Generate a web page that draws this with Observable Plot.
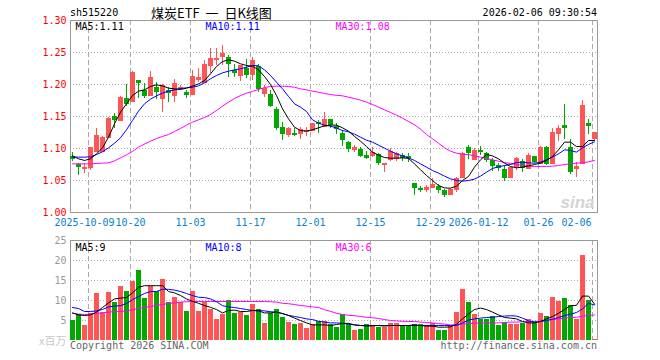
<!DOCTYPE html>
<html><head><meta charset="utf-8">
<script src="https://cdn.jsdelivr.net/npm/d3@7"></script>
<script src="https://cdn.jsdelivr.net/npm/@observablehq/plot@0.6"></script>
<style>
body{margin:0;background:#fff;}
#wrap{position:relative;width:660px;height:360px;overflow:hidden;font-family:"DejaVu Sans Mono",monospace;}
.t{position:absolute;font-size:10px;white-space:pre;line-height:10px;}
#price,#vol{position:absolute;left:0;}
#price{top:0;} #vol{top:232px;}
</style></head><body>
<div id="wrap">
 <div id="price"></div><div id="vol"></div>
 <div class="t" id="code" style="left:70px;top:8px;"></div>
 <div class="t" id="title" style="left:151px;top:6px;font-family:'Noto Sans CJK SC',sans-serif;font-size:13px;line-height:14px;word-spacing:3px;"></div>
 <div class="t" id="time" style="right:63px;top:8px;"></div>
 <div class="t" id="copy" style="left:70px;top:341px;color:#666;"></div>
 <div class="t" id="url" style="right:63px;top:341px;color:#666;"></div>
</div>
<script>
const headerCode = "sh515220";
const headerTitle = "煤炭ETF 一 日K线图";
const headerTime = "2026-02-06 09:30:54";
const footerLeft = "Copyright 2026 SINA.COM";
const footerRight = "http://finance.sina.com.cn";

const dates = ["2025-09-26","2025-09-29","2025-09-30","2025-10-09","2025-10-10",
"2025-10-13","2025-10-14","2025-10-15","2025-10-16","2025-10-17",
"2025-10-20","2025-10-21","2025-10-22","2025-10-23","2025-10-24",
"2025-10-27","2025-10-28","2025-10-29","2025-10-30","2025-10-31",
"2025-11-03","2025-11-04","2025-11-05","2025-11-06","2025-11-07",
"2025-11-10","2025-11-11","2025-11-12","2025-11-13","2025-11-14",
"2025-11-17","2025-11-18","2025-11-19","2025-11-20","2025-11-21",
"2025-11-24","2025-11-25","2025-11-26","2025-11-27","2025-11-28",
"2025-12-01","2025-12-02","2025-12-03","2025-12-04","2025-12-05",
"2025-12-08","2025-12-09","2025-12-10","2025-12-11","2025-12-12",
"2025-12-15","2025-12-16","2025-12-17","2025-12-18","2025-12-19",
"2025-12-22","2025-12-23","2025-12-24","2025-12-25","2025-12-26",
"2025-12-29","2025-12-30","2025-12-31",
"2026-01-05","2026-01-06","2026-01-07","2026-01-08","2026-01-09",
"2026-01-12","2026-01-13","2026-01-14","2026-01-15","2026-01-16",
"2026-01-19","2026-01-20","2026-01-21","2026-01-22","2026-01-23",
"2026-01-26","2026-01-27","2026-01-28","2026-01-29","2026-01-30",
"2026-02-02","2026-02-03","2026-02-04","2026-02-05","2026-02-06"];

const opens = [1.0875,1.0745,1.068,1.070,1.0953,1.0953,1.1177,1.150,1.1438,1.1776,
1.174,1.2063,1.1906,1.1828,1.1958,1.1786,1.1906,1.1828,1.1945,1.188,
1.1844,1.2078,1.2036,1.2297,1.2396,1.2438,1.2417,1.2219,1.214,1.2245,
1.2156,1.2281,1.1865,1.1844,1.1609,1.1323,1.1219,1.124,1.124,1.126,
1.1281,1.1411,1.1344,1.1453,1.1344,1.124,1.1099,1.0984,1.0984,1.0891,
1.0891,1.0906,1.0745,1.0823,1.0839,1.0891,1.088,1.0448,1.038,1.0359,
1.0396,1.0406,1.0344,1.0281,1.0354,1.0552,1.101,1.0823,1.0974,1.0917,
1.0813,1.0734,1.0667,1.0552,1.0719,1.0802,1.0682,1.0875,1.0771,1.1021,
1.0771,1.124,1.1359,1.1021,1.0682,1.0771,1.1396,1.1151];
const highs = [1.094,1.076,1.076,1.102,1.1318,1.119,1.149,1.155,1.1813,1.200,
1.2203,1.2068,1.202,1.22,1.2036,1.1995,1.1958,1.2073,1.199,1.1906,
1.2219,1.2245,1.2375,1.2557,1.2557,1.261,1.2453,1.2313,1.2297,1.2385,
1.2427,1.2313,1.1984,1.1906,1.1646,1.1411,1.1323,1.1307,1.1323,1.1323,
1.1396,1.1438,1.1568,1.1453,1.1396,1.1281,1.1115,1.1047,1.1021,1.0953,
1.1021,1.0917,1.0766,1.0995,1.0932,1.0927,1.0917,1.0448,1.0406,1.0422,
1.0526,1.0438,1.0354,1.037,1.0542,1.0943,1.1047,1.0995,1.1031,1.0943,
1.0839,1.0771,1.0734,1.0708,1.0854,1.0828,1.0917,1.0875,1.1031,1.1031,
1.1307,1.1359,1.1688,1.1135,1.0786,1.175,1.1448,1.1255];
const lows = [1.080,1.058,1.0615,1.0656,1.0943,1.094,1.1177,1.1307,1.1438,1.1661,
1.174,1.1776,1.178,1.1818,1.1766,1.1568,1.1724,1.1714,1.190,1.1776,
1.1844,1.2036,1.201,1.2167,1.2297,1.2297,1.2115,1.2115,1.2052,1.2089,
1.2063,1.188,1.1797,1.1635,1.1281,1.1125,1.1167,1.1193,1.1135,1.1193,
1.1271,1.124,1.1323,1.1307,1.1219,1.1031,1.0943,1.0932,1.0854,1.0823,
1.0854,1.0734,1.063,1.0802,1.0802,1.0802,1.0786,1.0266,1.0318,1.0318,
1.0385,1.0302,1.024,1.0266,1.0318,1.0526,1.0823,1.0813,1.0891,1.0786,
1.0646,1.0646,1.049,1.0542,1.0656,1.063,1.0667,1.0771,1.076,1.0734,
1.076,1.1115,1.1135,1.0594,1.0542,1.075,1.1219,1.1125];
const closes = [1.084,1.0725,1.071,1.101,1.1203,1.1177,1.1474,1.1458,1.1802,1.1698,
1.2193,1.2031,1.1823,1.2115,1.1896,1.1984,1.1875,1.201,1.1955,1.1839,
1.213,1.2104,1.2313,1.240,1.2402,1.248,1.2333,1.2182,1.2297,1.2156,
1.2375,1.1943,1.1932,1.1672,1.1323,1.1229,1.1307,1.1219,1.1292,1.1276,
1.1396,1.1385,1.1453,1.1375,1.1307,1.1141,1.0995,1.1021,1.0891,1.0854,
1.0943,1.0776,1.0766,1.0953,1.0917,1.0865,1.0854,1.0396,1.0365,1.0396,
1.0438,1.0365,1.0281,1.0354,1.0526,1.0927,1.0943,1.0969,1.0958,1.0823,
1.0734,1.0698,1.0552,1.0698,1.0839,1.0708,1.0891,1.0802,1.1021,1.0771,
1.1255,1.1307,1.1323,1.0646,1.0719,1.1672,1.1359,1.1255];

const ma5 = [1.0885,1.0839,1.0813,1.0839,1.0917,1.101,1.1177,1.1385,1.1568,1.1698,1.1828,1.1896,1.1917,1.1969,1.1995,1.1979,1.1943,1.1932,1.1922,1.1943,1.1974,1.201,1.2062,
1.2167,1.2281,1.2359,1.2385,1.2365,1.2323,1.2297,1.2286,1.2229,1.2125,1.2,1.1828,1.162,1.1464,1.1333,1.1281,1.1271,1.1292,1.1323,1.1354,1.1365,1.1365,
1.1323,1.1271,1.1188,1.1115,1.1031,1.0943,1.0896,1.0859,1.0849,1.0849,1.0854,1.0845,1.076,1.0667,1.0578,1.05,1.0422,1.0385,1.038,1.0411,1.05,1.0563,
1.0708,1.0823,1.0906,1.0885,1.0839,1.0771,1.0719,1.0698,1.0708,1.0729,1.075,1.0771,1.0813,1.0875,1.0979,1.1099,1.1099,1.1031,1.1031,1.1125,1.1125];
const ma10 = [1.0865,1.0865,1.0865,1.087,1.0906,1.0948,1.101,1.1083,1.1167,1.1292,1.1438,1.1583,1.1698,1.1771,1.1823,1.1865,1.1896,1.1917,1.1938,1.1948,1.1958,1.1979,1.2026,
1.2089,1.2141,1.2182,1.2208,1.2229,1.2245,1.2271,1.2297,1.2292,1.2229,1.2141,1.2036,1.1932,1.1813,1.1698,1.1646,1.1578,1.1448,1.1396,1.1365,1.1349,1.132,
1.1281,1.126,1.1224,1.1177,1.113,1.1099,1.1052,1.1005,1.0958,1.0917,1.0885,1.0854,1.0813,1.076,1.0708,1.0656,1.0615,1.0568,1.0526,1.05,1.049,1.05,
1.0521,1.0568,1.063,1.0688,1.0714,1.0734,1.075,1.0781,1.0786,1.0776,1.0771,1.0786,1.0823,1.0865,1.0917,1.0979,1.0969,1.0943,1.101,1.1063,1.1105];
const ma30 = [1.076,1.076,1.076,1.076,1.0766,1.0771,1.0776,1.0807,1.0854,1.0901,1.0953,1.1021,1.1068,1.1115,1.1156,1.1188,1.1219,1.1266,1.1313,1.1365,1.1411,1.1448,1.1484,
1.1531,1.1594,1.1661,1.1724,1.1781,1.1828,1.1865,1.1891,1.1922,1.1953,1.1969,1.1974,1.1974,1.1969,1.1958,1.1932,1.1917,1.1896,1.188,1.1859,1.1844,1.1831,
1.1823,1.1802,1.1781,1.1755,1.1724,1.1688,1.1646,1.1604,1.1563,1.1521,1.1474,1.1422,1.137,1.1302,1.1219,1.1151,1.1083,1.101,1.0958,1.0927,1.0911,1.0904,
1.0885,1.0865,1.0844,1.0823,1.0802,1.0781,1.0766,1.075,1.0734,1.0724,1.0719,1.0719,1.0719,1.0724,1.0734,1.075,1.076,1.0771,1.0776,1.0792,1.0813];

const vols = [5.0,6.4,3.75,6.8,11.75,6.9,12.0,9.4,13.5,12.25,14.8,17.5,10.5,13.6,12.25,15.25,9.4,10.75,9.6,7.25,12.25,7.25,9.4,7.75,5.25,6.5,10.0,6.8,6.9,6.25,9.0,7.75,4.3,6.8,7.75,5.8,4.6,3.9,4.2,3.1,3.9,4.75,4.75,3.9,
3.33,6.4,3.9,2.5,2.75,3.9,3.75,3.25,3.25,4.25,4.25,3.75,3.75,3.9,3.9,3.6,4.2,2.5,2.5,3.75,7.0,12.75,9.4,6.5,5.25,5.25,6.0,3.75,4.4,3.9,3.9,4.25,5.25,4.4,6.75,6.0,10.75,9.75,10.5,8.8,5.25,21.25,9.9,0.25];
const vma5 = [6.9,6.4,6.25,6.4,7.1,8.25,9.4,10.4,10.6,10.75,11.9,13.3,13.7,13.7,13.7,13.7,12.25,11.9,11.25,10.4,9.8,9.3,8.75,8.3,7.75,6.9,7.5,7.6,7.25,7.25,7.5,7.4,6.9,6.9,7.1,6.75,6.25,5.6,5.0,4.4,3.9,3.9,3.9,3.75,
4.0,4.25,4.3,3.9,3.75,3.6,3.7,3.75,3.6,3.75,3.75,3.75,3.75,3.9,3.75,3.6,3.6,3.33,3.33,3.4,4.1,5.4,6.6,7.75,8.1,7.75,7.1,6.4,5.75,5.6,5.4,4.75,4.4,4.4,4.75,5.4,6.0,6.8,7.75,8.7,8.8,11.1,11.1,9.1];
const vma10 = [8.25,8.0,7.25,7.25,7.4,7.75,8.4,8.6,8.7,9.25,10.2,11.0,11.75,12.25,12.25,12.8,12.8,12.6,12.25,11.75,11.25,10.8,10.75,10.4,9.7,8.7,8.4,8.25,8.0,7.75,7.5,7.5,7.4,7.2,7.1,6.7,6.3,6.0,5.75,5.4,5.25,4.8,4.6,4.4,
4.4,4.3,4.1,3.9,3.75,3.75,3.75,3.75,3.75,3.75,3.75,3.75,3.75,3.75,3.75,3.75,3.75,3.75,3.75,3.7,3.75,4.4,5.1,5.4,5.6,5.75,5.8,6.0,6.1,6.2,6.1,5.6,4.9,4.6,4.75,5.0,5.3,5.75,6.2,6.6,7.0,7.9,9.3,8.9];
const vma30 = [6.8,6.6,6.5,6.6,6.75,6.9,7.1,7.2,7.25,7.4,7.7,8.0,8.25,8.5,8.75,9.0,9.25,9.4,9.6,9.7,9.75,9.75,9.75,9.75,9.75,9.75,9.75,9.75,9.75,9.75,9.75,9.75,9.75,9.7,9.6,9.3,9.2,9.0,8.75,8.6,8.4,8.25,7.7,7.3,
6.8,6.5,6.3,6.2,6.0,5.8,5.7,5.5,5.25,5.0,4.9,4.8,4.75,4.75,4.6,4.5,4.4,4.25,4.1,3.9,3.9,4.1,4.25,4.3,4.4,4.4,4.4,4.4,4.5,4.6,4.6,4.7,4.75,4.8,4.8,5.1,5.25,5.4,5.6,5.75,5.8,6.1,6.25,6.4];

const tickDates = ["2025-10-09","2025-10-20","2025-11-03","2025-11-17","2025-12-01","2025-12-15","2025-12-29","2026-01-12","2026-01-26","2026-02-06"];
const tickLabels = ["2025-10-09","10-20","11-03","11-17","12-01","12-15","12-29","2026-01-12","01-26","02-06"];
const priceTicks = [1.00,1.05,1.10,1.15,1.20,1.25,1.30];
const volTicks = [5,10,15,20,25];
const volUnit = "x百万";

// ---- build tables ----
const RED = "#ff5555", GREEN = "#00a800", MAGENTA = "#ff00ff", BLUE = "#0000ff", DATEBLUE = "#0a7fcf";
const bars = dates.map((d, i) => ({i, d, o: opens[i], h: highs[i], l: lows[i], c: closes[i], v: vols[i],
  m5: ma5[i], m10: ma10[i], m30: ma30[i], vm5: vma5[i], vm10: vma10[i], vm30: vma30[i], up: closes[i] >= opens[i]}));
const upBars = bars.filter(b => b.up), dnBars = bars.filter(b => !b.up);
const ticks = tickDates.map((d, k) => ({i: dates.indexOf(d), label: tickLabels[k]}));
const xDomain = [-1/3, dates.length - 0.5];
const gridPrice = priceTicks.slice(1, -1);
const gridVol = volTicks.slice(0, -1);
const last = a => a[a.length - 1];
const L = b => b.i - 1/3, R = b => b.i + 0.5;
const dashed = {stroke: "#aaa", strokeDasharray: "5,3", dx: -2};
const dotted = {stroke: "#aaa", strokeDasharray: "1,2"};
const crisp = {shapeRendering: "crispEdges"};
const dateText = {x: "i", text: "label", frameAnchor: "bottom", lineAnchor: "middle", dy: 10, fill: DATEBLUE};

function candles(data, color) {
  return [
    Plot.ruleX(data, {x: "i", y1: "l", y2: "h", stroke: color, ...crisp}),
    Plot.rect(data, {x1: L, x2: R, y1: "o", y2: "c", fill: color, ...crisp}),
    Plot.ruleY(data, {x1: L, x2: R, y: "o", stroke: color, ...crisp}),
    Plot.ruleY(data, {x1: L, x2: R, y: "c", stroke: color, ...crisp})
  ];
}

const priceChart = Plot.plot({
  width: 660, height: 232, marginTop: 20, marginBottom: 20, marginLeft: 70, marginRight: 63,
  x: {type: "linear", domain: xDomain, axis: null},
  y: {domain: [priceTicks[0], last(priceTicks)], axis: null},
  style: {fontFamily: "DejaVu Sans Mono, monospace", fontSize: "10px", background: "transparent", overflow: "visible"},
  marks: [
    Plot.ruleY(gridPrice, dotted),
    Plot.ruleX(ticks, {x: "i", ...dashed}),
    Plot.text(["sina"], {frameAnchor: "bottom-right", dx: -3, dy: -5, fill: "#d4d4d4", fontSize: 17, fontWeight: "bold", fontStyle: "italic", fontFamily: "Liberation Sans, sans-serif"}),
    Plot.frame({stroke: "#999"}),
    ...candles(upBars, RED),
    ...candles(dnBars, GREEN),
    Plot.line(bars, {x: "i", y: "m30", stroke: MAGENTA, strokeWidth: 1}),
    Plot.line(bars, {x: "i", y: "m10", stroke: BLUE, strokeWidth: 1}),
    Plot.line(bars, {x: "i", y: "m5", stroke: "black", strokeWidth: 1}),
    Plot.text(priceTicks, {y: d => d, text: d => d.toFixed(2), frameAnchor: "left", textAnchor: "end", lineAnchor: "middle", dx: -4, fill: "red"}),
    Plot.text(ticks.slice(0, 1), {...dateText, dx: -6}),
    Plot.text(ticks.slice(1, -1), {...dateText, dx: -2}),
    Plot.text(ticks.slice(-1), {...dateText, textAnchor: "end", dx: -3}),
    Plot.text([`MA5:${last(ma5).toFixed(2)}`], {frameAnchor: "top-left", textAnchor: "start", lineAnchor: "middle", dx: 5, dy: 6, fill: "black"}),
    Plot.text([`MA10:${last(ma10).toFixed(2)}`], {frameAnchor: "top-left", textAnchor: "start", lineAnchor: "middle", dx: 135, dy: 6, fill: BLUE}),
    Plot.text([`MA30:${last(ma30).toFixed(2)}`], {frameAnchor: "top-left", textAnchor: "start", lineAnchor: "middle", dx: 265, dy: 6, fill: MAGENTA})
  ]
});

const volChart = Plot.plot({
  width: 660, height: 128, marginTop: 8, marginBottom: 20, marginLeft: 70, marginRight: 63,
  x: {type: "linear", domain: xDomain, axis: null},
  y: {domain: [0, last(volTicks)], axis: null},
  style: {fontFamily: "DejaVu Sans Mono, monospace", fontSize: "10px", background: "transparent", overflow: "visible"},
  marks: [
    Plot.ruleY(gridVol, dotted),
    Plot.ruleX(ticks, {x: "i", ...dashed}),
    Plot.ruleY([last(volTicks)], {stroke: "#999"}),
    Plot.ruleX(xDomain, {stroke: "#999"}),
    Plot.rect(upBars, {x1: L, x2: R, y1: 0, y2: "v", fill: RED, ...crisp}),
    Plot.rect(dnBars, {x1: L, x2: R, y1: 0, y2: "v", fill: GREEN, ...crisp}),
    Plot.line(bars, {x: "i", y: "vm30", stroke: MAGENTA, strokeWidth: 1}),
    Plot.line(bars, {x: "i", y: "vm10", stroke: BLUE, strokeWidth: 1}),
    Plot.line(bars, {x: "i", y: "vm5", stroke: "black", strokeWidth: 1}),
    Plot.text(volTicks, {y: d => d, text: d => String(d), frameAnchor: "left", textAnchor: "end", lineAnchor: "middle", dx: -4, fill: "#999"}),
    Plot.text([volUnit], {frameAnchor: "bottom-left", textAnchor: "end", lineAnchor: "middle", dx: -4, dy: 1, fill: "#c8c8c8", fontSize: 11, fontFamily: "Noto Sans CJK SC, sans-serif"}),
    Plot.text([`MA5:${Math.floor(last(vma5))}`], {frameAnchor: "top-left", textAnchor: "start", lineAnchor: "middle", dx: 5, dy: 7, fill: "black"}),
    Plot.text([`MA10:${Math.floor(last(vma10))}`], {frameAnchor: "top-left", textAnchor: "start", lineAnchor: "middle", dx: 135, dy: 7, fill: BLUE}),
    Plot.text([`MA30:${Math.floor(last(vma30))}`], {frameAnchor: "top-left", textAnchor: "start", lineAnchor: "middle", dx: 265, dy: 7, fill: MAGENTA})
  ]
});

document.getElementById("price").appendChild(priceChart);
document.getElementById("vol").appendChild(volChart);
document.getElementById("code").textContent = headerCode;
document.getElementById("title").textContent = headerTitle;
document.getElementById("time").textContent = headerTime;
document.getElementById("copy").textContent = footerLeft;
document.getElementById("url").textContent = footerRight;
</script>
</body></html>
